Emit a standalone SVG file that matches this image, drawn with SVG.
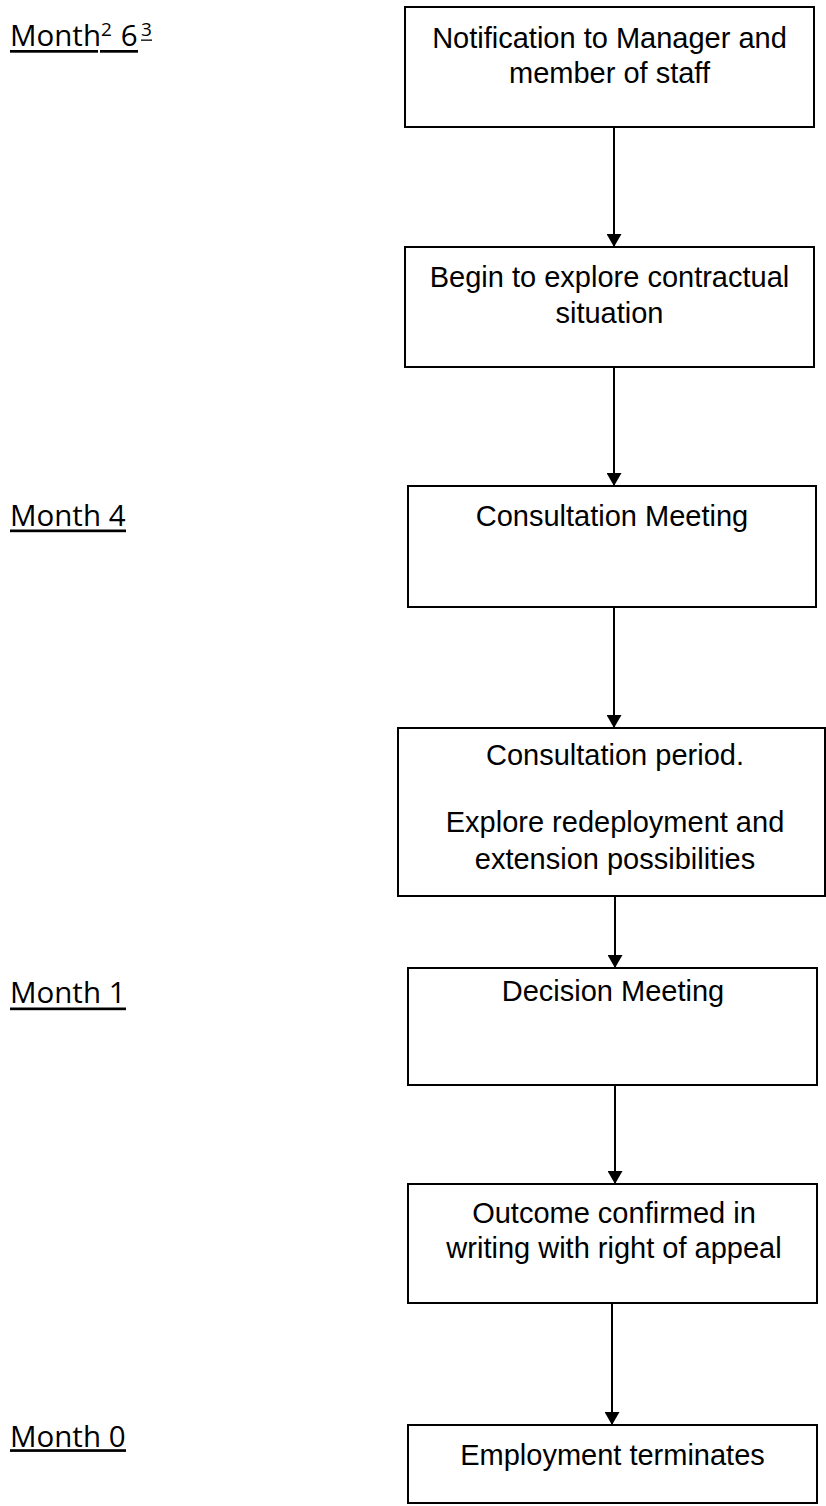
<svg xmlns="http://www.w3.org/2000/svg" width="826" height="1506" viewBox="0 0 826 1506">
  <defs>
    <marker id="arrow" markerUnits="userSpaceOnUse" markerWidth="14" markerHeight="15" refX="13" refY="7.5" orient="auto">
      <path d="M0,0 L13,7.5 L0,15 Z" fill="#000"/>
    </marker>
  </defs>
  <style>
    .box { fill: #fff; stroke: #000; stroke-width: 2; }
    .t { font-family: "Liberation Sans", Arial, sans-serif; font-size: 29px; fill: #000; text-anchor: middle; }
    .m { font-family: "Open Sans", "Segoe UI", sans-serif; font-size: 29.5px; fill: #000; }
    .sup { font-size: 19px; }
    .ul { fill: #000; }
    .conn { stroke: #000; stroke-width: 2; fill: none; marker-end: url(#arrow); }
  </style>
  <rect width="826" height="1506" fill="#fff"/>

  <g id="labels">
    <g id="label-month6">
      <text class="m" x="10" y="45.5">Month<tspan class="sup" x="101" y="36">2</tspan><tspan x="113" y="45.5"> 6</tspan><tspan class="sup" x="141" y="36">3</tspan></text>
      <rect class="ul" x="10" y="50" width="88" height="2.7"/>
      <rect class="ul" x="100" y="50" width="38" height="2.7"/>
      <rect class="ul" x="141" y="39.5" width="11" height="1.3"/>
    </g>
    <g id="label-month4">
      <text class="m" x="10" y="525.5">Month 4</text>
      <rect class="ul" x="10" y="529.5" width="116" height="2.7"/>
    </g>
    <g id="label-month1">
      <text class="m" x="10" y="1003.3">Month 1</text>
      <rect class="ul" x="10" y="1007.5" width="116" height="2.7"/>
    </g>
    <g id="label-month0">
      <text class="m" x="10" y="1446.7">Month 0</text>
      <rect class="ul" x="10" y="1449.2" width="116" height="2.7"/>
    </g>
  </g>

  <g id="connectors">
    <line class="conn" x1="614" y1="127" x2="614" y2="247"/>
    <line class="conn" x1="614" y1="367" x2="614" y2="486"/>
    <line class="conn" x1="614" y1="607" x2="614" y2="728"/>
    <line class="conn" x1="615" y1="896" x2="615" y2="968"/>
    <line class="conn" x1="615" y1="1085" x2="615" y2="1184"/>
    <line class="conn" x1="612" y1="1303" x2="612" y2="1425"/>
  </g>

  <g id="node-notification">
    <rect class="box" x="405" y="7" width="409" height="120"/>
    <text class="t" x="609.5" y="48">Notification to Manager and</text>
    <text class="t" x="609.5" y="83">member of staff</text>
  </g>
  <g id="node-explore">
    <rect class="box" x="405" y="247" width="409" height="120"/>
    <text class="t" x="609.5" y="286.5">Begin to explore contractual</text>
    <text class="t" x="609.5" y="323">situation</text>
  </g>
  <g id="node-consultation-meeting">
    <rect class="box" x="408" y="486" width="408" height="121"/>
    <text class="t" x="612" y="525.5">Consultation Meeting</text>
  </g>
  <g id="node-consultation-period">
    <rect class="box" x="398" y="728" width="427" height="168"/>
    <text class="t" x="615" y="765">Consultation period.</text>
    <text class="t" x="615" y="831.5">Explore redeployment and</text>
    <text class="t" x="615" y="869">extension possibilities</text>
  </g>
  <g id="node-decision-meeting">
    <rect class="box" x="408" y="968" width="409" height="117"/>
    <text class="t" x="613" y="1001">Decision Meeting</text>
  </g>
  <g id="node-outcome">
    <rect class="box" x="408" y="1184" width="409" height="119"/>
    <text class="t" x="614" y="1223">Outcome confirmed in</text>
    <text class="t" x="614" y="1258">writing with right of appeal</text>
  </g>
  <g id="node-terminates">
    <rect class="box" x="408" y="1425" width="409" height="78"/>
    <text class="t" x="612.5" y="1465">Employment terminates</text>
  </g>
</svg>
